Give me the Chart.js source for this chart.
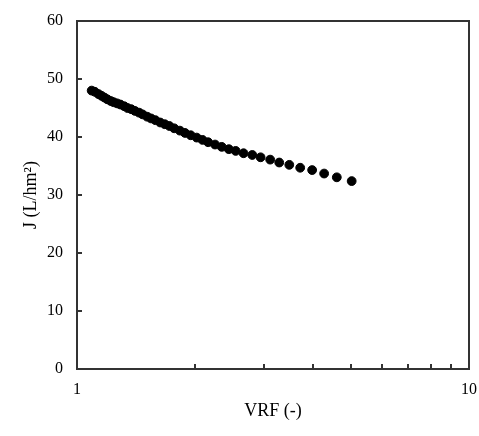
<!DOCTYPE html>
<html>
<head>
<meta charset="utf-8">
<script src="https://cdn.jsdelivr.net/npm/chart.js@4/dist/chart.umd.min.js"></script>
<style>
  html, body { margin: 0; padding: 0; background: #fff; }
  #wrap { width: 479px; height: 436px; }
</style>
</head>
<body>
<div id="wrap"><canvas id="fluxChart" width="479" height="436"></canvas></div>
<script>
// values
var vrf = [1.09, 1.11, 1.135, 1.155, 1.175, 1.195, 1.22, 1.24, 1.265, 1.29,
           1.32, 1.345, 1.375, 1.405, 1.44, 1.47, 1.51, 1.545, 1.585, 1.63,
           1.675, 1.72, 1.77, 1.83, 1.886, 1.95, 2.02, 2.09, 2.16, 2.25,
           2.34, 2.44, 2.54, 2.66, 2.80, 2.94, 3.11, 3.28, 3.48, 3.71,
           3.98, 4.27, 4.60, 5.02];
var flux = [48.0, 47.8, 47.4, 47.1, 46.8, 46.5, 46.2, 46.0, 45.8, 45.6,
            45.3, 45.0, 44.8, 44.5, 44.2, 43.9, 43.5, 43.2, 42.9, 42.5,
            42.2, 41.9, 41.5, 41.1, 40.7, 40.3, 39.9, 39.5, 39.1, 38.7,
            38.3, 37.9, 37.6, 37.2, 36.9, 36.5, 36.1, 35.6, 35.2, 34.7,
            34.3, 33.7, 33.05, 32.4];
var xLabels = [1, 10];
var xMinor = [2, 3, 4, 5, 6, 7, 8, 9];
var yTicks = [0, 10, 20, 30, 40, 50, 60];

var points = [];
for (var i = 0; i < vrf.length; i++) {
    points.push({x: vrf[i], y: flux[i]});
}

var font = {family: '"Liberation Serif", "DejaVu Serif", serif', size: 16};
var titleFont = {family: font.family, size: 18};

// frame round the plot and short ticks pointing inwards
var frameTicks = {
    id: 'frameTicks',
    afterDraw: function (chart) {
        var ctx = chart.ctx;
        var a = chart.chartArea;
        var sx = chart.scales.x, sy = chart.scales.y;
        ctx.save();
        ctx.strokeStyle = '#333';
        ctx.lineWidth = 2;
        ctx.strokeRect(a.left, a.top, a.right - a.left, a.bottom - a.top);
        ctx.beginPath();
        yTicks.forEach(function (v) {
            var py = Math.round(sy.getPixelForValue(v));
            ctx.moveTo(a.left, py);
            ctx.lineTo(a.left + 5, py);
        });
        xMinor.forEach(function (v) {
            var px = Math.round(sx.getPixelForValue(v));
            ctx.moveTo(px, a.bottom);
            ctx.lineTo(px, a.bottom - 5);
        });
        ctx.stroke();
        ctx.restore();
    }
};

var ctx = document.getElementById('fluxChart').getContext('2d');
var chart = new Chart(ctx, {
    type: 'scatter',
    data: {
        datasets: [{
            data: points,
            backgroundColor: '#000',
            borderColor: '#000',
            pointRadius: 4.4,
            pointHoverRadius: 4.4
        }]
    },
    options: {
        responsive: false,
        animation: false,
        events: [],
        layout: {padding: {left: 0, right: 10, top: 21, bottom: 0}},
        plugins: {legend: {display: false}, tooltip: {enabled: false}},
        scales: {
            x: {
                type: 'logarithmic',
                min: 1,
                max: 10,
                grid: {display: false},
                border: {display: false},
                afterFit: function (s) { s.height = 67; s.paddingRight = 0; s.paddingLeft = 0; },
                afterBuildTicks: function (s) {
                    s.ticks = xLabels.map(function (v) { return {value: v}; });
                },
                ticks: {
                    color: '#000',
                    font: font,
                    padding: 3,
                    autoSkip: false,
                    maxRotation: 0,
                    callback: function (v) { return String(v); }
                },
                title: {
                    display: true,
                    text: 'VRF (-)',
                    color: '#000',
                    font: titleFont,
                    padding: {top: 0, bottom: 14}
                }
            },
            y: {
                min: 0,
                max: 60,
                grid: {display: false},
                border: {display: false},
                afterFit: function (s) { s.width = 77; },
                afterBuildTicks: function (s) {
                    s.ticks = yTicks.map(function (v) { return {value: v}; });
                },
                ticks: {color: '#000', font: font, padding: 6},
                title: {
                    display: true,
                    text: 'J (L/hm\u00B2)',
                    color: '#000',
                    font: titleFont,
                    padding: {top: 20, bottom: 0}
                }
            }
        }
    },
    plugins: [frameTicks]
});
</script>
</body>
</html>
